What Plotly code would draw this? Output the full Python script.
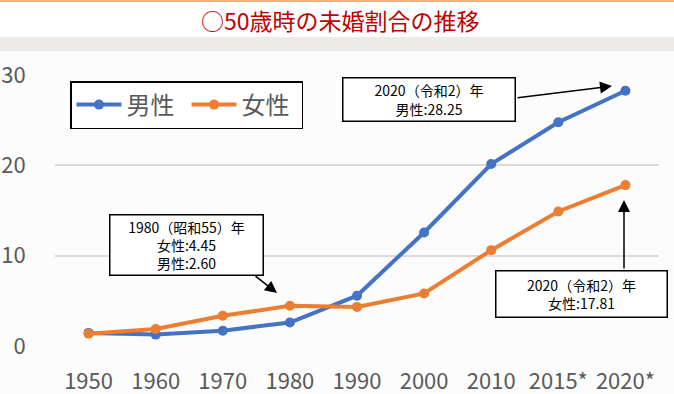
import plotly.graph_objects as go

years = ["1950", "1960", "1970", "1980", "1990", "2000", "2010", "2015*", "2020*"]
male = [1.45, 1.26, 1.70, 2.60, 5.57, 12.57, 20.14, 24.77, 28.25]
female = [1.35, 1.88, 3.34, 4.45, 4.33, 5.82, 10.61, 14.89, 17.81]
y_ticks = [0, 10, 20, 30]

W, H = 674, 394
L, R, T, B = 55, 659, 75, 346

def px2x(px):
    return (px - L) / (R - L)

def px2y(py):
    return (B - py) / (B - T)

FONT = "Noto Sans CJK JP"
BLUE = "#4472C4"
ORANGE = "#ED7D31"
GRAY = "#595959"

fig = go.Figure()
fig.add_trace(go.Scatter(x=years, y=male, name="男性", mode="lines+markers",
                         line=dict(color=BLUE, width=4), marker=dict(size=10, color=BLUE)))
fig.add_trace(go.Scatter(x=years, y=female, name="女性", mode="lines+markers",
                         line=dict(color=ORANGE, width=4), marker=dict(size=10, color=ORANGE)))

shapes = [
    dict(type="rect", xref="paper", yref="paper", x0=px2x(0), x1=px2x(W), y0=px2y(H), y1=px2y(51),
         fillcolor="#FCFCFC", line=dict(width=0), layer="below"),
    dict(type="rect", xref="paper", yref="paper", x0=px2x(0), x1=px2x(W), y0=px2y(51), y1=px2y(37),
         fillcolor="#EEEAE9", line=dict(width=0), layer="below"),
    dict(type="rect", xref="paper", yref="paper", x0=px2x(0), x1=px2x(W), y0=px2y(2), y1=px2y(0),
         fillcolor="#F4B183", line=dict(width=0), layer="below"),
]

annotations = [
    dict(text="○50歳時の未婚割合の推移", xref="paper", yref="paper", x=px2x(340), y=px2y(20),
         xanchor="center", yanchor="middle", showarrow=False,
         font=dict(family=FONT, size=23, color="#C00000")),
]

box_font = dict(family=FONT, size=14, color="black")

def box(text, x0, y0, x1, y1):
    return dict(text=text, xref="paper", yref="paper", x=px2x((x0 + x1) / 2), y=px2y((y0 + y1) / 2),
                xanchor="center", yanchor="middle", showarrow=False, font=box_font,
                bgcolor="white", bordercolor="black", borderwidth=1.5, borderpad=0,
                width=x1 - x0 - 3, height=y1 - y0 - 3, align="center")

def arrow(tx, ty, sx, sy):
    return dict(text="", xref="paper", yref="paper", x=px2x(tx), y=px2y(ty),
                ax=sx - tx, ay=sy - ty, axref="pixel", ayref="pixel",
                showarrow=True, arrowhead=2, arrowsize=1.6, arrowwidth=1.5, arrowcolor="black",
                standoff=0, startstandoff=0)

annotations += [
    arrow(612, 86, 516, 98),
    arrow(277, 293, 254, 275),
    arrow(624, 200, 624, 270),
    box("2020（令和2）年<br>男性:28.25", 342, 77, 516, 122),
    box("1980（昭和55）年<br>女性:4.45<br>男性:2.60", 109, 214, 264, 276),
    box("2020（令和2）年<br>女性:17.81", 495, 270, 668, 318),
]

fig.update_layout(
    width=W, height=H, autosize=False,
    margin=dict(l=L, r=W - R, t=T, b=H - B, pad=0, autoexpand=False),
    paper_bgcolor="white", plot_bgcolor="rgba(0,0,0,0)",
    font=dict(family=FONT, color=GRAY),
    showlegend=True,
    legend=dict(orientation="h", x=px2x(70), y=px2y(81), xanchor="left", yanchor="top",
                bordercolor="black", borderwidth=1.5, bgcolor="white",
                font=dict(family=FONT, size=24, color=GRAY), itemwidth=45,
                entrywidth=55, entrywidthmode="pixels", tracegroupgap=0),
    shapes=shapes,
    annotations=annotations,
)
fig.update_xaxes(type="category", range=[-0.5, len(years) - 0.5], showgrid=False, zeroline=False,
                 showline=False, ticks="outside", ticklen=16, tickcolor="rgba(0,0,0,0)",
                 automargin=False, tickfont=dict(family=FONT, size=22, color=GRAY))
fig.update_yaxes(range=[0, 30], tickvals=y_ticks, showgrid=True, gridcolor="#D9D9D9", gridwidth=1.5,
                 zeroline=False, showline=False, ticks="outside", ticklen=24, tickcolor="rgba(0,0,0,0)",
                 automargin=False, tickfont=dict(family=FONT, size=22, color=GRAY))

fig.write_html("out.html", config={"displayModeBar": False},
               post_script="document.body.style.margin='0';document.body.style.overflow='hidden';")
